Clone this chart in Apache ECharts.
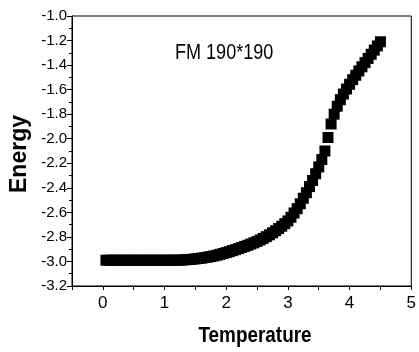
<!DOCTYPE html>
<html>
<head>
<meta charset="utf-8">
<script src="https://cdn.jsdelivr.net/npm/echarts@6/dist/echarts.min.js"></script>
<style>html,body{margin:0;padding:0;background:#fff;}#c{width:419px;height:352px;}</style>
</head>
<body>
<div id="c"></div>
<script>
var temperature = [
  0.05,0.10,0.15,0.20,0.25,0.30,0.35,0.40,0.45,
  0.50,0.55,0.60,0.65,0.70,0.75,0.80,0.85,0.90,0.95,
  1.00,1.05,1.10,1.15,1.20,1.25,1.30,1.35,1.40,1.45,
  1.50,1.55,1.60,1.65,1.70,1.75,1.80,1.85,1.90,1.95,
  2.00,2.05,2.10,2.15,2.20,2.25,2.30,2.35,2.40,2.45,
  2.50,2.55,2.60,2.65,2.70,2.75,2.80,2.85,2.90,2.95,
  3.00,3.05,3.10,3.15,3.20,3.25,3.30,3.35,3.40,3.45,
  3.50,3.55,3.60,3.65,3.70,3.75,3.80,3.85,3.90,3.95,
  4.00,4.05,4.10,4.15,4.20,4.25,4.30,4.35,4.40,4.45,
  4.50
];
var energy = [
  -2.99,-2.99,-2.99,-2.99,-2.99,-2.99,-2.99,-2.99,-2.99,
  -2.99,-2.99,-2.99,-2.99,-2.99,-2.99,-2.99,-2.99,-2.99,-2.99,
  -2.99,-2.99,-2.99,-2.99,-2.99,-2.989,-2.988,-2.986,-2.984,-2.982,
  -2.979,-2.976,-2.973,-2.969,-2.965,-2.960,-2.955,-2.949,-2.942,-2.935,
  -2.928,-2.920,-2.912,-2.904,-2.895,-2.886,-2.877,-2.868,-2.858,-2.848,
  -2.837,-2.825,-2.812,-2.798,-2.783,-2.767,-2.750,-2.732,-2.713,-2.692,
  -2.670,-2.640,-2.605,-2.570,-2.530,-2.485,-2.440,-2.390,-2.340,-2.285,
  -2.230,-2.170,-2.100,-1.990,-1.880,-1.800,-1.735,-1.682,-1.636,-1.595,
  -1.556,-1.519,-1.483,-1.448,-1.414,-1.380,-1.346,-1.312,-1.278,-1.244,
  -1.210
];
var xTickLabels = ['0','1','2','3','4','5'];
var yTickLabels = ['-3.2','-3.0','-2.8','-2.6','-2.4','-2.2','-2.0','-1.8','-1.6','-1.4','-1.2','-1.0'];
var seriesLabel = 'FM 190*190';
var xName = 'Temperature';
var yName = 'Energy';

var pts = temperature.map(function (t, i) { return [t, energy[i]]; });
var FONT = "'Liberation Sans', Arial, sans-serif";

var chart = echarts.init(document.getElementById('c'), null, {renderer: 'canvas'});
chart.setOption({
  animation: false,
  backgroundColor: '#fff',
  grid: {left: 72, right: 6, top: 16, bottom: 66, show: true, borderColor: '#000', borderWidth: 1, backgroundColor: 'transparent'},
  xAxis: {
    type: 'value', min: -0.5, max: 5, interval: 0.5,
    axisLine: {show: true, onZero: false, lineStyle: {color: '#000', width: 1}},
    axisTick: {show: true, inside: false, length: 4, lineStyle: {color: '#000'}},
    splitLine: {show: false},
    axisLabel: {
      color: '#000', fontFamily: FONT, fontSize: 17, margin: 9,
      showMinLabel: true, showMaxLabel: true,
      formatter: function (v) {
        var r = Math.round(v);
        if (Math.abs(v - r) > 1e-6 || r < 0) return '';
        return xTickLabels[r] !== undefined ? xTickLabels[r] : '';
      }
    }
  },
  yAxis: {
    type: 'value', min: -3.2, max: -1.0, interval: 0.2,
    axisLine: {show: true, onZero: false, lineStyle: {color: '#000', width: 1}},
    axisTick: {show: true, inside: false, length: 5, lineStyle: {color: '#000'}},
    minorTick: {show: true, splitNumber: 2, length: 3, lineStyle: {color: '#000'}},
    splitLine: {show: false},
    axisLabel: {
      color: '#000', fontFamily: FONT, fontSize: 15, margin: 5,
      showMinLabel: true, showMaxLabel: true,
      formatter: function (v) {
        var idx = Math.round((v + 3.2) / 0.2);
        return yTickLabels[idx] !== undefined ? yTickLabels[idx] : '';
      }
    }
  },
  graphic: [
    {type: 'text', x: 175, y: 42, scaleX: 0.82, style: {text: seriesLabel, fill: '#000', font: '22px ' + FONT, align: 'left', verticalAlign: 'top'}},
    {type: 'text', x: 255, y: 336, scaleX: 0.86, style: {text: xName, fill: '#000', font: 'bold 22px ' + FONT, align: 'center', verticalAlign: 'middle'}},
    {type: 'text', x: 20, y: 154, rotation: Math.PI / 2, style: {text: yName, fill: '#000', font: 'bold 23px ' + FONT, align: 'center', verticalAlign: 'middle'}}
  ],
  series: [{
    type: 'scatter',
    data: pts,
    symbol: 'rect',
    symbolSize: 11,
    itemStyle: {color: '#000', opacity: 1},
    silent: true
  }]
});
</script>
</body>
</html>
